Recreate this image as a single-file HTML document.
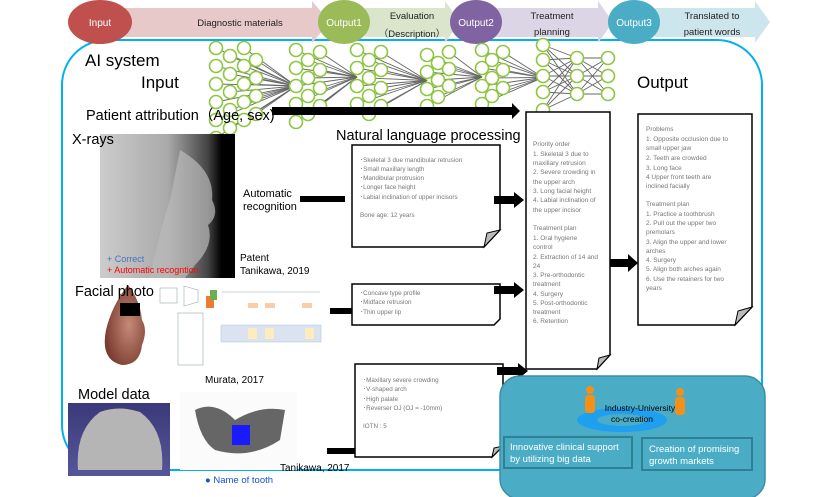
<!DOCTYPE html>
<html><head><meta charset="utf-8"><style>
body{margin:0;background:#fff;}
svg{display:block;font-family:"Liberation Sans",sans-serif;}
</style></head><body>
<svg id="s" width="830" height="497" viewBox="0 0 830 497" xmlns="http://www.w3.org/2000/svg">
<defs>
<linearGradient id="xr" x1="0" y1="0" x2="1" y2="0"><stop offset="0" stop-color="#ccc"/><stop offset="0.5" stop-color="#aaa"/><stop offset="0.8" stop-color="#444"/><stop offset="0.9" stop-color="#000"/><stop offset="1" stop-color="#000"/></linearGradient>
<radialGradient id="face" cx="0.6" cy="0.5" r="0.6"><stop offset="0" stop-color="#c58a78"/><stop offset="1" stop-color="#7a3d30"/></radialGradient>
<linearGradient id="mod" x1="0" y1="0" x2="0" y2="1"><stop offset="0" stop-color="#3a3a7a"/><stop offset="1" stop-color="#555599"/></linearGradient>
</defs>
<rect x="62" y="40" width="700" height="430" rx="45" fill="none" stroke="#00b0f0" stroke-width="2"/>
<polygon points="120,8 312,8 312,1 330,22 312,43 312,37 120,37" fill="#e6c9c8"/>
<polygon points="365,8 445,8 445,1 460,22 445,43 445,37 365,37" fill="#dbe5cc"/>
<polygon points="495,8 598,8 598,1 613,22 598,43 598,37 495,37" fill="#dcd5e6"/>
<polygon points="655,8 755,8 755,1 770,22 755,43 755,37 655,37" fill="#cde5ec"/>
<ellipse cx="100" cy="22" rx="32" ry="22" fill="#c0504d"/>
<ellipse cx="344" cy="22" rx="26" ry="22" fill="#9bbb59"/>
<ellipse cx="476" cy="22" rx="26" ry="22" fill="#8064a2"/>
<ellipse cx="634" cy="22" rx="26" ry="22" fill="#4bacc6"/>
<g font-size="10" fill="#fff" text-anchor="middle">
<text x="100" y="26">Input</text><text x="344" y="26">Output1</text><text x="476" y="26">Output2</text><text x="634" y="26">Output3</text></g>
<g font-size="9.5" fill="#222" text-anchor="middle">
<text x="240" y="26">Diagnostic materials</text>
<text x="412" y="19">Evaluation</text><text x="412" y="37">（Description）</text>
<text x="552" y="19">Treatment</text><text x="552" y="35">planning</text>
<text x="712" y="19">Translated to</text><text x="712" y="35">patient words</text></g>
<g id="nn"></g>
<g font-size="17" fill="#000">
<text x="85" y="66">AI system</text><text x="141" y="88">Input</text><text x="637" y="88">Output</text></g>
<text x="86" y="120" font-size="14.5">Patient attribution（Age, sex)</text>
<polygon points="272,107 512,107 512,103 520,111 512,119 512,115 272,115" fill="#000"/>
<text x="336" y="140" font-size="14.5">Natural language processing</text>
<rect x="100" y="134" width="135" height="144" fill="url(#xr)"/>
<path d="M180,150 Q215,170 212,200 Q220,215 208,225 Q215,245 195,265 L185,278 L150,278 Q160,230 170,200 Z" fill="#bbb" opacity="0.7"/>
<text x="72" y="144" font-size="14.5">X-rays</text>
<text x="107" y="262" font-size="9" fill="#4472c4">+   Correct</text>
<text x="107" y="273" font-size="9" fill="#ff0000">+   Automatic recogntion</text>
<text x="243" y="197" font-size="11">Automatic</text><text x="243" y="210" font-size="11">recognition</text>
<rect x="300" y="196" width="45" height="6" fill="#000"/>
<text x="240" y="261" font-size="10">Patent</text><text x="240" y="274" font-size="10">Tanikawa,  2019</text>
<path d="M128,285 Q140,300 142,320 Q148,330 142,345 Q140,365 122,365 Q100,360 106,330 Q112,305 128,285Z" fill="url(#face)"/>
<text x="75" y="296" font-size="14.5">Facial photo</text>
<rect x="120" y="303" width="20" height="13" fill="#000"/>
<rect x="157" y="283" width="165" height="84" fill="#fff"/>
<g stroke="#9aa" stroke-width="0.6" fill="none">
<rect x="160" y="288" width="17" height="15"/><polygon points="184,286 198,290 198,302 184,306"/>
<rect x="178" y="313" width="25" height="52"/>
<rect x="221" y="325" width="100" height="17" fill="#dbe3f0" stroke="#b8c6de"/>
<line x1="222" y1="292" x2="320" y2="292"/></g>
<rect x="206" y="296" width="8" height="12" fill="#f07a32"/><rect x="210" y="290" width="7" height="10" fill="#6ab04c"/>
<g fill="#f8cda8"><rect x="248" y="303" width="10" height="5"/><rect x="265" y="303" width="10" height="5"/><rect x="302" y="303" width="10" height="5"/></g>
<g fill="#fcecc0"><rect x="248" y="328" width="9" height="11"/><rect x="265" y="328" width="9" height="11"/><rect x="305" y="328" width="9" height="11"/></g>
<text x="205" y="383" font-size="10">Murata, 2017</text>
<rect x="330" y="308" width="25" height="6" fill="#000"/>
<text x="78" y="399" font-size="14.5">Model data</text>
<rect x="68" y="403" width="102" height="73" fill="url(#mod)"/>
<path d="M78,470 Q75,430 100,412 Q119,405 140,412 Q165,430 162,470 Z" fill="#b5b5b5"/>
<rect x="180" y="392" width="117" height="78" fill="#fbfbfb"/>
<path d="M195,410 Q215,400 235,420 Q260,405 285,410 L280,440 Q250,460 215,450 Q200,440 195,410Z" fill="#666"/>
<rect x="232" y="425" width="18" height="20" fill="#1a1aff"/>
<text x="205" y="483" font-size="9.5" fill="#1a4fd0">● Name of tooth</text>
<text x="280" y="471" font-size="10">Tanikawa, 2017</text>
<rect x="327" y="448" width="28" height="6" fill="#000"/>
<g fill="#fff" stroke="#000" stroke-width="1.5">
<path d="M352,145 H500 V230 L484,247 H352 Z"/>
<path d="M352,284 H500 V319 L494,325 H352 Z"/>
<path d="M355,364 H503 V446 L492,457 H355 Z"/>
<path d="M526,112 H610 V355 L597,369 H526 Z"/>
<path d="M638,114 H752 V307 L735,325 H638 Z"/>
</g>
<g fill="#bbb" stroke="#000" stroke-width="1"><path d="M484,247 L487,233 L500,230 Z"/><path d="M597,369 L599,358 L610,355 Z"/><path d="M735,325 L738,311 L752,307 Z"/><path d="M492,457 L494,448 L503,446 Z"/></g>
<g font-size="6.3" fill="#777">
<text x="360" y="162">･Skeletal 3 due mandibular retrusion</text>
<text x="360" y="171">･Small maxillary length</text>
<text x="360" y="180">･Mandibular protrusion</text>
<text x="360" y="189">･Longer face height</text>
<text x="360" y="199">･Labial inclination of upper incisors</text>
<text x="360" y="217">Bone age: 12 years</text>
<text x="360" y="295">･Concave type profile</text>
<text x="360" y="304">･Midface  retrusion</text>
<text x="360" y="314">･Thin upper lip</text>
<text x="363" y="382">･Maxillary severe crowding</text>
<text x="363" y="391">･V-shaped  arch</text>
<text x="363" y="401">･High palate</text>
<text x="363" y="410">･Reverser OJ (OJ = -10mm)</text>
<text x="363" y="428">IOTN : 5</text>
</g>
<g font-size="6.5" fill="#777">
<text x="533" y="146">Priority order</text><text x="533" y="156">1. Skeletal 3 due to</text><text x="533" y="165">maxillary retrusion</text><text x="533" y="174">2. Severe crowding in</text><text x="533" y="184">the upper arch</text><text x="533" y="193">3. Long facial height</text><text x="533" y="202">4. Labial inclination of</text><text x="533" y="212">the upper incisor</text>
<text x="533" y="230">Treatment plan</text><text x="533" y="240">1. Oral hygiene</text><text x="533" y="249">control</text><text x="533" y="259">2. Extraction of 14 and</text><text x="533" y="268">24</text><text x="533" y="277">3. Pre-orthodontic</text><text x="533" y="286">treatment</text><text x="533" y="296">4. Surgery</text><text x="533" y="305">5. Post-orthodontic</text><text x="533" y="314">treatment</text><text x="533" y="323">6. Retention</text>
<text x="646" y="131">Problems</text><text x="646" y="141">1. Opposite occlusion  due to</text><text x="646" y="150">small upper jaw</text><text x="646" y="160">2.  Teeth are crowded</text><text x="646" y="170">3.  Long face</text><text x="646" y="179">4 Upper front teeth are</text><text x="646" y="188">inclined facially</text>
<text x="646" y="206">Treatment plan</text><text x="646" y="216">1. Practice a toothbrush</text><text x="646" y="225">2. Pull out the upper two</text><text x="646" y="234">premolars</text><text x="646" y="244">3. Align the upper and lower</text><text x="646" y="253">arches</text><text x="646" y="262">4. Surgery</text><text x="646" y="271">5. Align both arches again</text><text x="646" y="281">6. Use the retainers for two</text><text x="646" y="290">years</text>
</g>
<g fill="#000">
<polygon points="494,196 514,196 514,192 524,200 514,208 514,204 494,204"/>
<polygon points="494,286 514,286 514,282 524,290 514,298 514,294 494,294"/>
<polygon points="497,367 518,367 518,363 528,371 518,379 518,375 497,375"/>
<polygon points="610,259 628,259 628,254 638,263 628,272 628,267 610,267"/>
</g>
<rect x="500" y="376" width="265" height="123" rx="20" fill="#4bacc6" stroke="#3a8fa6" stroke-width="1.5"/>
<ellipse cx="622" cy="420" rx="45" ry="12" fill="#1e9ff0"/>
<ellipse cx="622" cy="420" rx="25" ry="6" fill="#4bacc6"/>
<g fill="#f39019"><circle cx="590" cy="390" r="4"/><rect x="585" y="395" width="10" height="18" rx="3"/><circle cx="680" cy="392" r="4"/><rect x="675" y="397" width="10" height="18" rx="3"/></g>
<text x="640" y="411" font-size="8.5" fill="#000" text-anchor="middle">Industry-University</text>
<text x="632" y="422" font-size="8.5" fill="#000" text-anchor="middle">co-creation</text>
<rect x="504" y="437" width="128" height="31" fill="none" stroke="#2f7f95" stroke-width="2"/>
<rect x="642" y="438" width="110" height="32" fill="none" stroke="#2f7f95" stroke-width="2"/>
<g font-size="9.5" fill="#fff"><text x="510" y="450">Innovative clinical support</text><text x="510" y="462">by utilizing big data</text>
<text x="649" y="452">Creation of promising</text><text x="649" y="464">growth markets</text></g>
</svg>
<script>
(function(){
var g=document.getElementById('nn'),NS='http://www.w3.org/2000/svg';
var groups=[
 [[216,[48,66,84,102,120,138]],[230,[56,74,92,110,128]],[244,[48,66,84,102,120]],[256,[60,78,96,114]]],
 [[296,[50,68,86,104,122]],[308,[60,78,96,114]],[320,[52,70,88,106]]],
 [[357,[50,68,86,104]],[369,[60,78,96,114]],[381,[52,70,88,106]]],
 [[427,[55,72,89,106]],[438,[63,80,97]],[449,[52,69,86]]],
 [[482,[50,68,86,104]],[492,[60,78,96]],[503,[52,70,88]]],
 [[543,[45,60,76,92,110]]],[[577,[58,76,94]]],[[608,[58,76,94]]]
];
function ln(a,b,c,d){var l=document.createElementNS(NS,'line');l.setAttribute('x1',a);l.setAttribute('y1',b);l.setAttribute('x2',c);l.setAttribute('y2',d);l.setAttribute('stroke','#666');l.setAttribute('stroke-width','0.9');g.appendChild(l);}
for(var i=0;i<groups.length-1;i++){
 var nx=groups[i+1];var tx=nx[0][0],ty=nx[0][1];
 groups[i].forEach(function(c){c[1].forEach(function(y){
  if(i>=5){ty.forEach(function(y2){ln(c[0],y,tx,y2);});}
  else ln(c[0],y,tx,(ty[0]+ty[ty.length-1])/2);
 });});
}
groups.forEach(function(gr){gr.forEach(function(c){c[1].forEach(function(y){var e=document.createElementNS(NS,'circle');e.setAttribute('cx',c[0]);e.setAttribute('cy',y);e.setAttribute('r',6.5);e.setAttribute('fill','#fff');e.setAttribute('stroke','#8dc63f');e.setAttribute('stroke-width','1.6');g.appendChild(e);});});});
})();
</script>
</body></html>
